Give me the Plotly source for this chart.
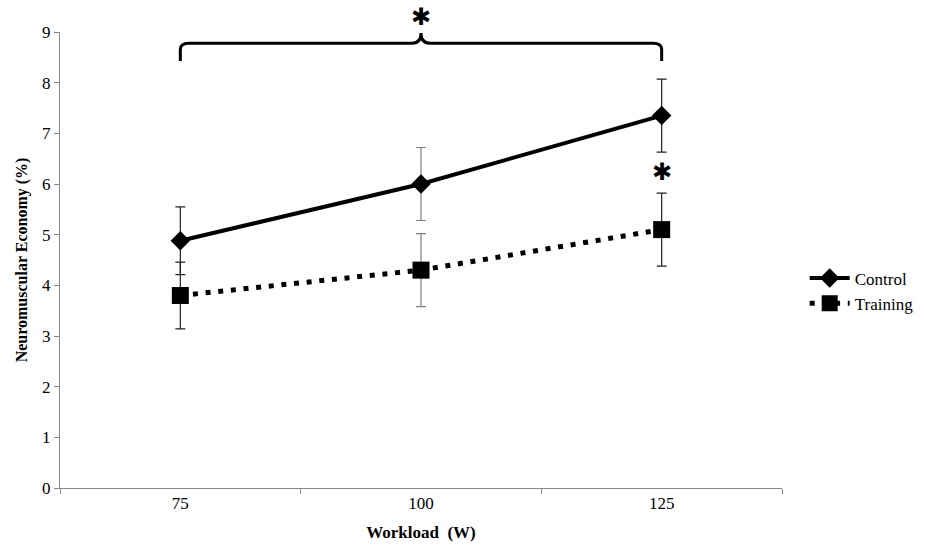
import plotly.graph_objects as go

workload = ["75", "100", "125"]
control = [4.88, 6.0, 7.35]
control_err = [0.67, 0.72, 0.72]
training = [3.8, 4.3, 5.1]
training_err = [0.66, 0.72, 0.72]
y_ticks = [0, 1, 2, 3, 4, 5, 6, 7, 8, 9]

FONT = "Liberation Serif"

fig = go.Figure()

# grey error bars at middle category, black at outer ones
def err_traces(vals, errs):
    for i, (x, v, e) in enumerate(zip(workload, vals, errs)):
        col = "#7f7f7f" if i == 1 else "#222222"
        fig.add_trace(go.Scatter(
            x=[x], y=[v], mode="markers", marker=dict(size=1, opacity=0),
            error_y=dict(type="data", array=[e], color=col, thickness=1.2, width=5),
            showlegend=False, hoverinfo="skip"))

err_traces(control, control_err)
err_traces(training, training_err)

fig.add_trace(go.Scatter(
    x=workload, y=control, name="Control", mode="lines+markers",
    line=dict(color="black", width=4),
    marker=dict(symbol="diamond", size=15, color="black"),
))
fig.add_trace(go.Scatter(
    x=workload, y=training, name="Training", mode="lines+markers",
    line=dict(color="black", width=5, dash="5px,7.7px"),
    marker=dict(symbol="square", size=17, color="black"),
))

# brace across top (x in paper coords = category centers)
x0, xm, x2 = 0.5 / 3, 1.5 / 3, 2.5 / 3
yb, ylo, ypk = 8.78, 8.43, 8.98
d = 0.012
path = (f"M {x0},{ylo} L {x0},{yb-0.12} Q {x0},{yb} {x0+d},{yb} "
        f"L {xm-d},{yb} Q {xm},{yb} {xm},{ypk} Q {xm},{yb} {xm+d},{yb} "
        f"L {x2-d},{yb} Q {x2},{yb} {x2},{yb-0.12} L {x2},{ylo}")
fig.add_shape(type="path", path=path, xref="paper", yref="y",
              line=dict(color="black", width=3))

for ax_x, ax_y in [(xm, 1.032), (x2, 0.693)]:
    fig.add_annotation(x=ax_x, xref="paper", y=ax_y, yref="paper", text="✱",
                       showarrow=False, xanchor="center", yanchor="middle",
                       font=dict(family="DejaVu Sans", size=24, color="black"))

fig.update_layout(
    width=930, height=548,
    margin=dict(l=60, r=147, t=32, b=60),
    paper_bgcolor="white", plot_bgcolor="white",
    font=dict(family=FONT, size=17, color="black"),
    legend=dict(x=1.03, y=0.432, xanchor="left", yanchor="middle",
                font=dict(family=FONT, size=17, color="black"),
                tracegroupgap=0, itemwidth=40),
    xaxis=dict(type="category", categoryorder="array", categoryarray=workload,
               tickson="boundaries", ticks="outside", ticklen=5, tickcolor="#888",
               showline=True, linecolor="#888", linewidth=1, showgrid=False,
               range=[-0.5, 2.5], automargin=False,
               title=dict(text="<b>Workload  (W)</b>", font=dict(family=FONT, size=17), standoff=13)),
    yaxis=dict(range=[0, 9], tickvals=y_ticks, ticks="outside", ticklen=5, tickcolor="#888",
               showline=True, linecolor="#888", linewidth=1, showgrid=False, zeroline=False,
               automargin=False,
               title=dict(text="<b>Neuromuscular Economy (%)</b>", font=dict(family=FONT, size=16), standoff=10)),
)

fig.write_html("out.html", config={"displayModeBar": False},
               post_script="document.body.style.margin='0';")
